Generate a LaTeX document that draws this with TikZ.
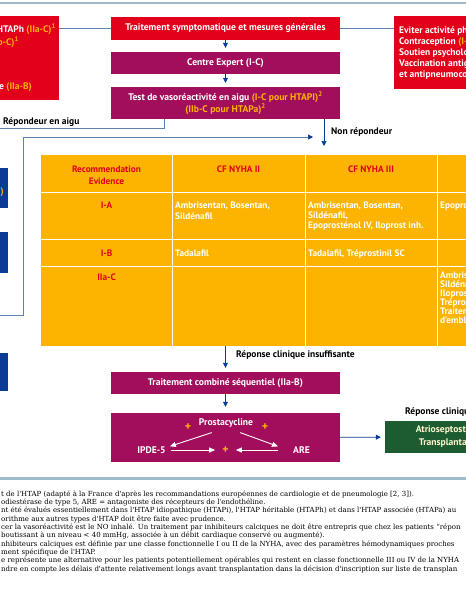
\documentclass[tikz,border=0pt]{standalone}
\usepackage{fontspec}
\setsansfont{PT Sans}
\newfontfamily\notefont{DejaVu Serif}
\usetikzlibrary{arrows.meta}
\definecolor{rougeB}{RGB}{226,0,26}
\definecolor{magB}{RGB}{163,14,92}
\definecolor{orB}{RGB}{253,180,0}
\definecolor{bleuB}{RGB}{10,60,150}
\definecolor{filB}{RGB}{95,130,170}
\definecolor{vertB}{RGB}{28,92,48}
\definecolor{grisB}{RGB}{158,186,202}
\definecolor{cremeB}{RGB}{255,246,205}
\newcommand\ev[1]{\textcolor{orB}{#1}}
\tikzset{
  boite/.style={fill=#1,text=white,inner sep=0pt,minimum width=229pt,align=center,font=\sffamily\bfseries\fontsize{9.6}{12}\selectfont},
  lbl/.style={inner sep=0pt,anchor=base west,font=\sffamily\bfseries\fontsize{9.5}{10}\selectfont},
  cell/.style={inner sep=0pt,anchor=base west,text=white,font=\sffamily\bfseries\fontsize{9.3}{9}\selectfont},
  tete/.style={inner sep=0pt,text=rougeB,align=center,font=\sffamily\bfseries\fontsize{9.3}{12}\selectfont},
  fleche/.style={draw=bleuB,line width=.7pt,shorten >=4pt,-{Triangle[width=5pt,length=5pt]}},
  filet/.style={draw=filB,line width=.7pt},
  blanche/.style={draw=white,line width=.9pt,-{Triangle[width=5pt,length=6pt]}},
  plus/.style={inner sep=0pt,text=orB,font=\sffamily\bfseries\fontsize{12}{12}\selectfont},
  note/.style={inner sep=0pt,anchor=base west,font=\notefont\fontsize{7}{8}\selectfont}
}
\begin{document}
\begin{tikzpicture}[x=1pt,y=-1pt]
\clip (0,0) rectangle (466,600);
\fill[white] (0,0) rectangle (466,600);
\draw[grisB,line width=2pt] (0,3) -- (466,3);
\draw[grisB,line width=3pt] (0,478) -- (466,478);

\node[boite=rougeB,minimum height=23pt] (symp) at (225.5,28){Traitement symptomatique et mesures générales};
\node[boite=magB,minimum height=22pt] (expert) at (225.5,63){Centre Expert (I-C)};
\node[boite=magB,minimum height=32pt] (test) at (225.5,103){Test de vasoréactivité en aigu \ev{(I-C pour HTAPI)\textsuperscript{2}}\\\ev{(IIb-C pour HTAPa)\textsuperscript{2}}};

\node[fill=rougeB,inner sep=0pt,minimum width=130pt,minimum height=84pt,anchor=north east] (rougeG) at (59,16){};
\node[lbl,anchor=base east,text=white] (rg1) at (56,32){HTAPh \ev{(IIa-C)\textsuperscript{1}}};
\node[lbl,anchor=base east] (rg2) at (19,45){\ev{(IIb-C)\textsuperscript{1}}};
\node[lbl,anchor=base east,text=white] (rg3) at (32,89){e \ev{(IIa-B)}};

\node[fill=rougeB,inner sep=0pt,minimum width=130pt,minimum height=73pt,anchor=north west] (rougeD) at (394,16){};
\foreach \i/\t in {1/{Eviter activité physique},2/{Contraception \ev{(I-C)}},3/{Soutien psychologique},4/{Vaccination antigrippale},5/{et antipneumococcique}}{\node[lbl,text=white] (rd\i) at (399,22+11*\i){\t};}

\draw[filet] (symp.west) -- (symp.west -| rougeG.east);
\draw[filet] (symp.east) -- (symp.east -| rougeD.west);
\draw[fleche] (symp) -- (expert);
\draw[fleche] (expert) -- (test);

\coordinate (rep) at (164,128);\coordinate (repG) at (-2,128);
\draw[filet] (test.south -| rep) -- (rep) -- (repG);
\node[lbl] (replbl) at (3,124){Répondeur en aigu};
\coordinate (nonrep) at (324,146);
\draw[fleche,shorten >=0pt] (test.south -| nonrep) -- (nonrep);
\node[lbl] (nrlbl) at (331,134){Non répondeur};

\foreach \i/\a/\b in {1/168/208,2/232/273,3/353/391}{\node[fill=bleuB,inner sep=0pt,anchor=north east,minimum width=40pt,minimum height={(\b-\a)*1pt}] (bleu\i) at (8,\a){};}
\node[lbl,anchor=base east] (bl1) at (4,194){\ev{)}};
\coordinate (retG) at (-2,315);\coordinate (retC) at (23,137);\coordinate (retD) at (313,137);
\draw[filet,-{Triangle[width=5pt,length=5pt,color=bleuB]}] (retG) -| (retC) -- (retD);

\node[fill=orB,inner sep=0pt,anchor=north west,minimum width=528pt,minimum height=191pt] (tab) at (41,155){};
\foreach \x in {172,305,437}{\draw[white,line width=.7pt] (\x,155) -- (\x,346);}
\foreach \y in {192,239,266}{\draw[white,line width=.7pt] (41,\y) -- (569,\y);}
\node[tete] (h1) at (106.5,175){Recommendation\\Evidence};
\node[tete] (h2) at (238.5,169){CF NYHA II};
\node[tete] (h3) at (371,169){CF NYHA III};
\foreach \n/\y/\t in {ia/208/I-A,ib/256/I-B,iia/280/IIa-C}{\node[tete,anchor=base] (\n) at (106.5,\y){\t};}
\foreach \n/\x/\y/\t in {c1/175/208/{Ambrisentan, Bosentan,},c2/175/219/{Sildénafil},c3/175/256/{Tadalafil},
  c4/308/208/{Ambrisentan, Bosentan,},c5/308/218/{Sildénafil,},c6/308/228/{Epoprosténol IV, Iloprost inh.},c7/308/256/{Tadalafil, Tréprostinil SC},
  c8/440/208/{Epoprosténol},c9/440/278/{Ambrisentan,},c10/440/287/{Sildénafil,},c11/440/296/{Iloprost},c12/440/305/{Tréprostinil},c13/440/314/{Traitement},c14/440/323/{d'emblée}}{\node[cell] (\n) at (\x,\y){\t};}

\node[boite=magB,minimum height=22pt] (seq) at (225.5,383){Traitement combiné séquentiel (IIa-B)};
\node[boite=magB,minimum height=49pt] (combo) at (225.5,437.5){};
\draw[fleche] (tab.south -| seq.north) -- (seq.north);
\draw[fleche,shorten >=6pt] (seq) -- (combo);
\node[lbl] (rci) at (236,357){Réponse clinique insuffisante};

\node[inner sep=0pt,text=white,font=\sffamily\bfseries\fontsize{9.6}{10}\selectfont] (prost) at (226,423){Prostacycline};
\node[inner sep=0pt,text=white,font=\sffamily\bfseries\fontsize{9.6}{10}\selectfont] (ipde) at (151.5,450){IPDE-5};
\node[inner sep=0pt,text=white,font=\sffamily\bfseries\fontsize{9.6}{10}\selectfont] (are) at (301.5,450){ARE};
\node[plus] (p1) at (188,427){+};
\node[plus] (p2) at (265,427){+};
\node[plus] (p3) at (225.5,450){+};
\draw[blanche] ([shift={(13,5)}]prost.south west) -- ([shift={(4,0)}]ipde.north east);
\draw[blanche] ([shift={(-13,5)}]prost.south east) -- ([shift={(-15,0)}]are.north west);
\draw[blanche] ([xshift=5pt]ipde.east) -- ([xshift=-7pt]p3.west);
\draw[blanche] ([xshift=-15pt]are.west) -- ([xshift=7pt]p3.east);

\node[fill=vertB,text=cremeB,inner sep=0pt,minimum width=132pt,minimum height=32pt,align=center,font=\sffamily\bfseries\fontsize{9.6}{13}\selectfont] (vert) at (451,437){Atrioseptostomie\\Transplantation};
\draw[fleche] (combo) -- (vert);
\node[lbl] (rci2) at (405,414){Réponse clinique insuffisante};

\foreach \i/\t in {0/{t de l'HTAP (adapté à la France d'après les recommandations européennes de cardiologie et de pneumologie [2, 3]).},
  1/{odiestérase de type 5, ARE = antagoniste des récepteurs de l'endothéline.},
  2/{nt été évalués essentiellement dans l'HTAP idiopathique (HTAPi), l'HTAP héritable (HTAPh) et dans l'HTAP associée (HTAPa) au},
  3/{orithme aux autres types d'HTAP doit être faite avec prudence.},
  4/{cer la vasoréactivité est le NO inhalé. Un traitement par inhibiteurs calciques ne doit être entrepris que chez les patients “répon},
  5/{boutissant à un niveau < 40 mmHg, associée à un débit cardiaque conservé ou augmenté).},
  6/{nhibiteurs calciques est définie par une classe fonctionnelle I ou II de la NYHA, avec des paramètres hémodynamiques proches},
  7/{ment spécifique de l'HTAP.},
  8/{e représente une alternative pour les patients potentiellement opérables qui restent en classe fonctionnelle III ou IV de la NYHA},
  9/{ndre en compte les délais d'attente relativement longs avant transplantation dans la décision d'inscription sur liste de transplan}}{\node[note] (n\i) at (1,496+8.35*\i){\t};}
\end{tikzpicture}
\end{document}
